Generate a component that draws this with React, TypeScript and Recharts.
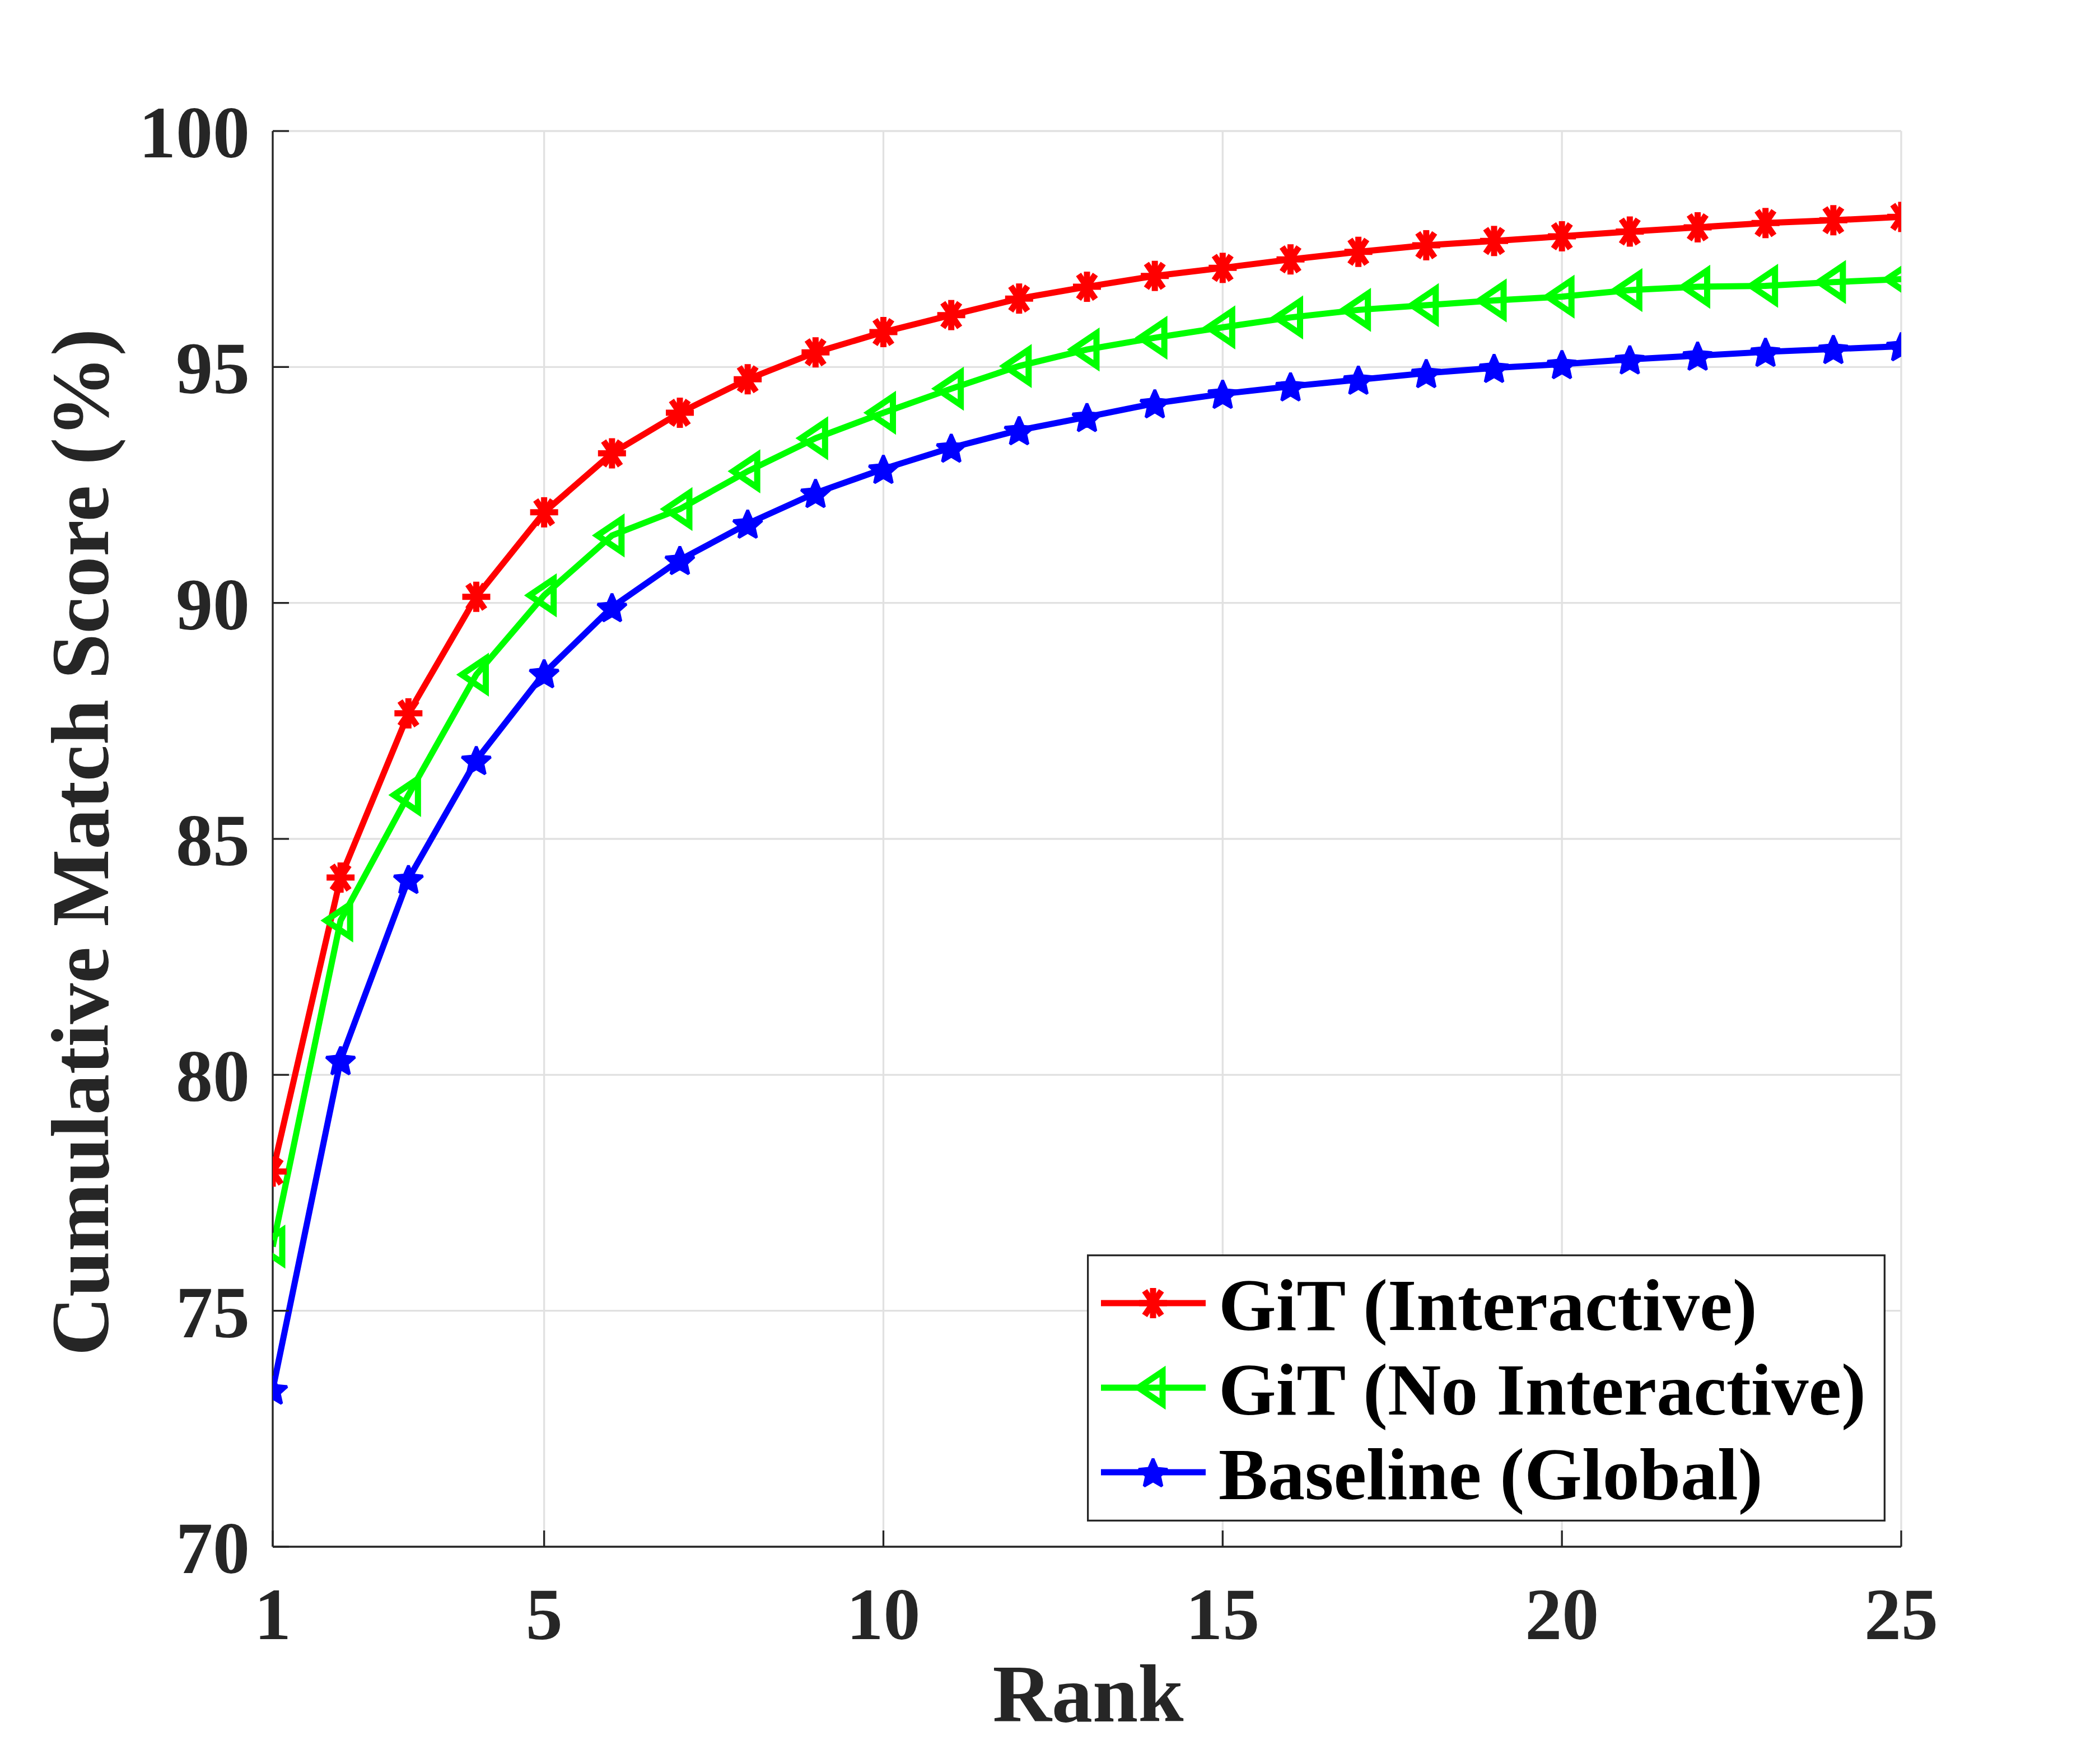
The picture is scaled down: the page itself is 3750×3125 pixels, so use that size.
import React from 'react';
import { LineChart, Line, XAxis, YAxis, CartesianGrid, Legend } from 'recharts';

// ---------- data ----------
const ranks = [1, 2, 3, 4, 5, 6, 7, 8, 9, 10, 11, 12, 13, 14, 15, 16, 17, 18, 19, 20, 21, 22, 23, 24, 25];
const gitInteractive = [77.95, 84.18, 87.66, 90.13, 91.92, 93.17, 94.03, 94.74, 95.31, 95.74, 96.10, 96.45, 96.70, 96.93, 97.10, 97.28, 97.44, 97.58, 97.67, 97.77, 97.87, 97.96, 98.05, 98.11, 98.18];
const gitNoInteractive = [76.36, 83.27, 85.93, 88.48, 90.16, 91.43, 91.99, 92.79, 93.49, 94.03, 94.54, 95.02, 95.37, 95.62, 95.84, 96.05, 96.21, 96.31, 96.41, 96.49, 96.63, 96.70, 96.72, 96.80, 96.86];
const baselineGlobal = [73.33, 80.31, 84.15, 86.67, 88.51, 89.91, 90.91, 91.68, 92.33, 92.84, 93.29, 93.66, 93.94, 94.23, 94.43, 94.59, 94.73, 94.87, 94.98, 95.06, 95.16, 95.24, 95.32, 95.38, 95.44];
const xTicks = [1, 5, 10, 15, 20, 25];
const yTicks = [70, 75, 80, 85, 90, 95, 100];
const seriesNames = ['GiT (Interactive)', 'GiT (No Interactive)', 'Baseline (Global)'];
const seriesKeys = ['interactive', 'noInteractive', 'baseline'];
const seriesColors = ['#ff0000', '#00ff00', '#0000ff'];
const seriesMarkers = ['asterisk', 'triangleLeft', 'pentagram'];

const data = ranks.map((r, i) => ({
  rank: r,
  interactive: gitInteractive[i],
  noInteractive: gitNoInteractive[i],
  baseline: baselineGlobal[i],
}));

// ---------- styles ----------
const FONT = '"Liberation Serif", "Times New Roman", Times, serif';
const AXIS = '#262626';
const GRID = '#e1e1e1';
const LINE_W = 11;
const AXIS_W = 3.3;
const TICK_FS = 132;
const LABEL_FS = 146;

function starPoints(cx: number, cy: number, R: number, r: number) {
  const pts: string[] = [];
  for (let k = 0; k < 10; k++) {
    const ang = -Math.PI / 2 + (k * Math.PI) / 5;
    const rad = k % 2 === 0 ? R : r;
    pts.push(`${cx + rad * Math.cos(ang)},${cy + rad * Math.sin(ang)}`);
  }
  return pts.join(' ');
}

function Marker({ kind, cx, cy, color }: { kind: string; cx: number; cy: number; color: string }) {
  if (kind === 'asterisk') {
    return (
      <g stroke={color} strokeWidth={LINE_W} fill="none">
        <line x1={cx} y1={cy - 27} x2={cx} y2={cy + 27} />
        <line x1={cx - 25} y1={cy} x2={cx + 25} y2={cy} />
        <line x1={cx - 15} y1={cy - 22} x2={cx + 15} y2={cy + 22} />
        <line x1={cx - 15} y1={cy + 22} x2={cx + 15} y2={cy - 22} />
      </g>
    );
  }
  if (kind === 'triangleLeft') {
    return (
      <polygon
        points={`${cx - 26},${cy} ${cx + 17},${cy - 29} ${cx + 17},${cy + 29}`}
        fill="none"
        stroke={color}
        strokeWidth={LINE_W}
        strokeLinejoin="miter"
      />
    );
  }
  return (
    <polygon
      points={starPoints(cx, cy + 3, 27, 12.5)}
      fill={color}
      stroke={color}
      strokeWidth={5}
      strokeLinejoin="miter"
      strokeMiterlimit={2}
    />
  );
}

const makeDot = (kind: string, color: string) => (props: any) => {
  const { cx, cy, index } = props;
  if (cx == null || cy == null) return <g key={`${kind}-${index}`} />;
  return <Marker key={`${kind}-${index}`} kind={kind} cx={cx} cy={cy} color={color} />;
};

const LEG_W = 1426;
const LEG_H = 477;

const LegendBox = () => (
  <svg width={LEG_W} height={LEG_H} style={{ display: 'block' }}>
    <rect
      x={AXIS_W / 2}
      y={AXIS_W / 2}
      width={LEG_W - AXIS_W}
      height={LEG_H - AXIS_W}
      fill="#ffffff"
      stroke={AXIS}
      strokeWidth={AXIS_W}
    />
    {seriesNames.map((name, i) => {
      const y = 87 + i * 151;
      return (
        <g key={name}>
          <line x1={25} x2={212} y1={y} y2={y} stroke={seriesColors[i]} strokeWidth={LINE_W} />
          <Marker kind={seriesMarkers[i]} cx={118} cy={y} color={seriesColors[i]} />
          <text x={235} y={y + 48} fontFamily={FONT} fontWeight="bold" fontSize={TICK_FS} fill="#000000">
            {name}
          </text>
        </g>
      );
    })}
  </svg>
);

const XLabel = (props: any) => {
  const vb = props.viewBox || { x: 479, y: 2754, width: 2908, height: 300 };
  const x = vb.x + vb.width / 2 + 2;
  const y = vb.y + 312;
  return (
    <text x={x} y={y} textAnchor="middle" fontFamily={FONT} fontWeight="bold" fontSize={LABEL_FS} fill={AXIS}>
      Rank
    </text>
  );
};

const YLabel = (props: any) => {
  const vb = props.viewBox || { x: 179, y: 226, width: 300, height: 2528 };
  const x = vb.x + 6;
  const y = vb.y + vb.height / 2 + 6;
  return (
    <text
      x={x}
      y={y}
      transform={`rotate(-90 ${x} ${y})`}
      textAnchor="middle"
      fontFamily={FONT}
      fontWeight="bold"
      fontSize={LABEL_FS}
      fill={AXIS}
    >
      Cumulative Match Score (%)
    </text>
  );
};

const tickStyle = { fill: AXIS, fontSize: TICK_FS, fontWeight: 'bold', fontFamily: FONT };

export default function App() {
  return (
    <div style={{ width: 3734, height: 3109, background: '#ffffff', fontFamily: FONT }}>
      <LineChart
        width={3734}
        height={3109}
        data={data}
        margin={{ top: 226, right: 347, bottom: 55, left: 179 }}
      >
        <CartesianGrid xAxisId="x" yAxisId="y" stroke={GRID} strokeWidth={AXIS_W} />
        <XAxis
          xAxisId="x"
          dataKey="rank"
          type="number"
          domain={[1, 25]}
          ticks={xTicks}
          interval={0}
          allowDataOverflow
          orientation="bottom"
          height={300}
          axisLine={{ stroke: AXIS, strokeWidth: AXIS_W }}
          tickLine={{ stroke: AXIS, strokeWidth: AXIS_W }}
          tickSize={-29}
          tickMargin={100}
          tick={tickStyle}
          label={XLabel}
        />
        <XAxis
          xAxisId="xt"
          dataKey="rank"
          type="number"
          domain={[1, 25]}
          ticks={xTicks}
          interval={0}
          allowDataOverflow
          orientation="top"
          height={0}
          axisLine={{ stroke: AXIS, strokeWidth: AXIS_W }}
          tickLine={{ stroke: AXIS, strokeWidth: AXIS_W }}
          tickSize={-29}
          tick={false}
        />
        <YAxis
          yAxisId="y"
          type="number"
          domain={[70, 100]}
          ticks={yTicks}
          interval={0}
          allowDataOverflow
          orientation="left"
          width={300}
          axisLine={{ stroke: AXIS, strokeWidth: AXIS_W }}
          tickLine={{ stroke: AXIS, strokeWidth: AXIS_W }}
          tickSize={-29}
          tickMargin={70}
          tick={tickStyle}
          label={YLabel}
        />
        <YAxis
          yAxisId="yr"
          type="number"
          domain={[70, 100]}
          ticks={yTicks}
          interval={0}
          allowDataOverflow
          orientation="right"
          width={0}
          axisLine={{ stroke: AXIS, strokeWidth: AXIS_W }}
          tickLine={{ stroke: AXIS, strokeWidth: AXIS_W }}
          tickSize={-29}
          tick={false}
        />
        {seriesKeys.map((key, i) => (
          <Line
            key={key}
            xAxisId="x"
            yAxisId="y"
            type="linear"
            dataKey={key}
            name={seriesNames[i]}
            stroke={seriesColors[i]}
            strokeWidth={LINE_W}
            dot={makeDot(seriesMarkers[i], seriesColors[i])}
            activeDot={false}
            isAnimationActive={false}
          />
        ))}
        <Legend
          layout="vertical"
          align="center"
          verticalAlign="middle"
          content={() => <LegendBox />}
          wrapperStyle={{ position: 'absolute', left: 1933, top: 2232, width: LEG_W, height: LEG_H, margin: 0, padding: 0 }}
        />
      </LineChart>
    </div>
  );
}
